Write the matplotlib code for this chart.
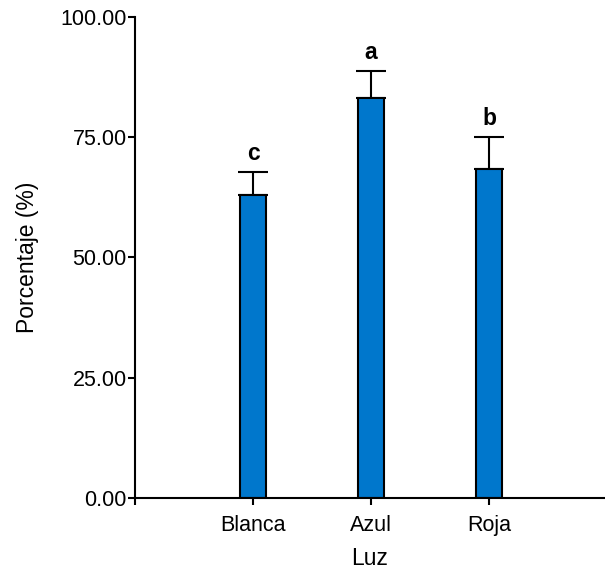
"""Porcentaje por tipo de luz, barras con error y letras de significancia."""

import matplotlib

matplotlib.use("Agg")

import matplotlib.pyplot as plt
import numpy as np

plt.rcParams["font.family"] = ["Liberation Sans", "DejaVu Sans"]

categories = ["Blanca", "Azul", "Roja"]
means = [63.0, 83.2, 68.4]
errors = [4.8, 5.6, 6.7]
letters = ["c", "a", "b"]

BAR_COLOR = "#0077CC"


def main() -> None:
    fig = plt.figure(figsize=(6.05, 5.70), dpi=100)
    ax = fig.add_axes([0.2231, 0.1263, 0.7769, 0.8439])

    x = np.arange(1, len(categories) + 1)
    ax.bar(x, means, width=0.22, color=BAR_COLOR, edgecolor="black", linewidth=1.5, zorder=2)
    ax.errorbar(
        x,
        means,
        yerr=[np.zeros(len(errors)), errors],
        fmt="none",
        ecolor="black",
        elinewidth=1.5,
        capsize=10.5,
        capthick=1.5,
        zorder=1,
    )
    for xi, m, e, lab in zip(x, means, errors, letters):
        ax.text(xi, m + e + 1.4, lab, ha="center", va="bottom", fontsize=16.5, fontweight="bold")

    ax.set_xlim(0, 3.98)
    ax.set_ylim(0, 100)
    ax.set_xticks(x)
    ax.set_xticklabels(categories)
    ax.set_xticks([0], minor=True)
    ax.set_yticks([0, 25, 50, 75, 100])
    ax.set_yticklabels([f"{v:.2f}" for v in [0, 25, 50, 75, 100]])

    for side in ("top", "right"):
        ax.spines[side].set_visible(False)
    for side in ("left", "bottom"):
        ax.spines[side].set_linewidth(1.5)
    ax.tick_params(axis="both", which="both", direction="out", length=5, width=1.5, labelsize=15.5)
    ax.tick_params(axis="x", pad=7)
    ax.tick_params(axis="y", pad=1)

    ax.set_xlabel("Luz", fontsize=16.5, labelpad=8)
    ax.set_ylabel("Porcentaje (%)", fontsize=16.5, labelpad=15)

    fig.savefig("out.png", dpi=100)
    plt.close(fig)


if __name__ == "__main__":
    main()
